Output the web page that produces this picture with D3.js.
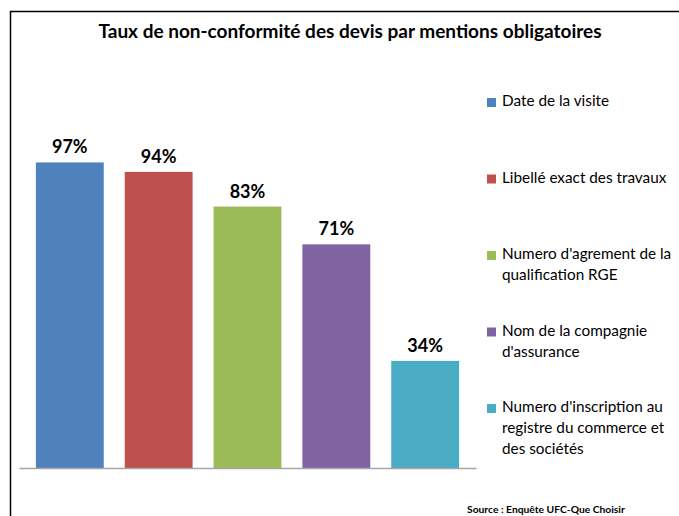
<!DOCTYPE html>
<html>
<head>
<meta charset="utf-8">
<script src="https://cdnjs.cloudflare.com/ajax/libs/d3/7.8.5/d3.min.js"></script>
<style>
  body { margin: 0; background: #fff; }
  svg { display: block; font-family: Lato, "Open Sans", sans-serif; }
  .title { font-weight: bold; font-size: 19px; fill: #000; }
  .value { font-weight: bold; font-size: 18px; fill: #000; }
  .legend text { font-size: 15.3px; fill: #000; }
  .source { font-weight: bold; font-size: 10.3px; fill: #000; }
</style>
</head>
<body>
<svg id="chart"></svg>
<script>
// categories (legend names, \n = line break in the legend)
var categories = [
    "Date de la visite",
    "Libellé exact des travaux",
    "Numero d'agrement de la\nqualification RGE",
    "Nom de la compagnie\nd'assurance",
    "Numero d'inscription au\nregistre du commerce et\ndes sociétés"
]
// percent of non-compliant quotes
var values = [97, 94, 83, 71, 34]
var colors = ["#4f81bd", "#c0504d", "#9bbb59", "#8064a2", "#4bacc6"]

var titleText = "Taux de non-conformité des devis par mentions obligatoires"
var sourceText = "Source : Enquête UFC-Que Choisir"

var screen = {width: 679, height: 516}
var plot = {left: 19, right: 476, top: 153, bottom: 468}

var svg = d3.select("#chart")
    .attr("width", screen.width)
    .attr("height", screen.height)

//frame around the chart
svg.append("rect")
   .attr("x", 10.5)
   .attr("y", 11.5)
   .attr("width", 700)
   .attr("height", 540)
   .attr("fill", "none")
   .attr("stroke", "#000")
   .attr("stroke-width", 1.5)

svg.append("text")
   .classed("title", true)
   .attr("text-anchor", "middle")
   .attr("x", 350)
   .attr("y", 38)
   .text(titleText)

var xScale = d3.scaleBand()
    .domain(categories)
    .range([plot.left, plot.right])
    .paddingInner(0.236)
    .paddingOuter(0.19)

var yScale = d3.scaleLinear()
    .domain([0, 100])
    .range([plot.bottom, plot.top])

var data = categories.map(function(c, i) {
    return {name: c, value: values[i], color: colors[i]}
})

svg.append("g")
   .selectAll("rect")
   .data(data)
   .enter()
   .append("rect")
   .attr("x", function(d) { return xScale(d.name) })
   .attr("y", function(d) { return yScale(d.value) })
   .attr("width", xScale.bandwidth())
   .attr("height", function(d) { return yScale(0) - yScale(d.value) })
   .attr("fill", function(d) { return d.color })

//value labels
svg.append("g")
   .selectAll("text")
   .data(data)
   .enter()
   .append("text")
   .classed("value", true)
   .attr("text-anchor", "middle")
   .attr("x", function(d) { return xScale(d.name) + xScale.bandwidth() / 2 })
   .attr("y", function(d) { return yScale(d.value) - 9 })
   .text(function(d) { return d.value + "%" })

//baseline only, no ticks
var xAxis = d3.axisBottom(xScale).tickSize(0).tickFormat("")
svg.append("g")
   .attr("transform", "translate(0," + plot.bottom + ")")
   .call(xAxis)
   .select(".domain")
   .attr("stroke", "#a6a6a6")
   .attr("stroke-width", 1.5)

//legend
var legend = svg.append("g")
    .classed("legend", true)
    .attr("transform", "translate(487,0)")

var entries = legend.selectAll("g")
    .data(data)
    .enter()
    .append("g")
    .attr("transform", function(d, i) {
        return "translate(0," + (106 + i * 76.5) + ")"
    })

entries.append("rect")
   .attr("x", 0)
   .attr("y", -8)
   .attr("width", 9)
   .attr("height", 9)
   .attr("fill", function(d) { return d.color })

entries.append("text")
   .attr("x", 15)
   .attr("y", 0)
   .selectAll("tspan")
   .data(function(d) { return d.name.split("\n") })
   .enter()
   .append("tspan")
   .attr("x", 15)
   .attr("dy", function(d, i) { return i == 0 ? 0 : 21 })
   .text(function(d) { return d })

svg.append("text")
   .classed("source", true)
   .attr("x", 467)
   .attr("y", 513)
   .text(sourceText)
</script>
</body>
</html>
